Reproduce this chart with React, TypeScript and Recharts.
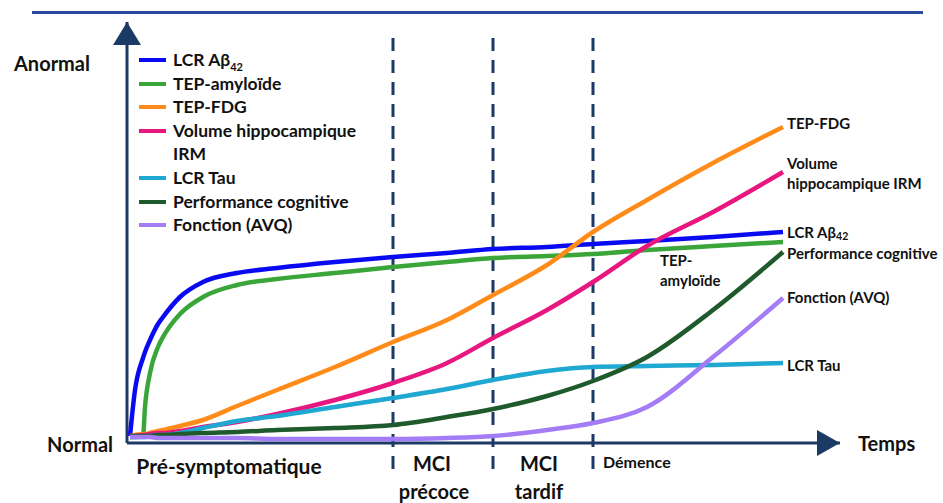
import { LineChart, Line, XAxis, YAxis, ReferenceLine, ReferenceDot } from 'recharts'

// temps (unités arbitraires) et niveaux des biomarqueurs (0 = normal)
const temps = [3, 8, 16, 18, 23, 31, 36, 53, 76, 110, 150, 208, 266, 320, 366, 420, 466, 520, 586, 656]
const lcrAbeta = [7, 53, 85, 91, 103, 119, 126, 146, 161, 170, 175, 181, 186, 190, 194, 196, 199, 202, 206, 211]
const tepAmyloide = [6, 6, 7, 36, 70, 96, 106, 129, 146, 158, 164, 170, 176, 181, 185, 187, 189, 193, 197, 201]
const tepFdg = [7, 8, 9, 9, 10, 12, 13, 17, 23, 37, 53, 76, 101, 123, 148, 178, 211, 243, 280, 316]
const volumeHippo = [7, 7, 8, 8, 9, 10, 10, 12, 16, 21, 29, 43, 60, 80, 105, 133, 161, 197, 231, 271]
const lcrTau = [6, 6, 6, 6, 7, 8, 8, 10, 15, 22, 27, 36, 45, 54, 63, 72, 76, 77, 78, 80]
const perfCognitive = [7, 7, 7, 7, 7, 8, 8, 9, 10, 11, 13, 15, 18, 26, 34, 47, 62, 86, 133, 191]
const fonctionAvq = [6, 6, 6, 6, 6, 5, 5, 5, 5, 5, 4, 4, 4, 5, 7, 13, 20, 36, 86, 145]

// limites entre les stades
const stades = [266, 366, 466]

const AXIS = '#1c3a66'
const FONT = 'Lato, "Open Sans", sans-serif'
const TEXT = '#111'

const series = [
  { key: 'lcrAbeta', name: 'LCR Aβ', sub: '42', color: '#0a0af2', values: lcrAbeta },
  { key: 'tepAmyloide', name: 'TEP-amyloïde', color: '#3aa63a', values: tepAmyloide },
  { key: 'tepFdg', name: 'TEP-FDG', color: '#ff8c1a', values: tepFdg },
  { key: 'volumeHippo', name: 'Volume hippocampique IRM', color: '#e8177f', values: volumeHippo },
  { key: 'lcrTau', name: 'LCR Tau', color: '#1fa8d2', values: lcrTau },
  { key: 'perfCognitive', name: 'Performance cognitive', color: '#1f5a2c', values: perfCognitive },
  { key: 'fonctionAvq', name: 'Fonction (AVQ)', color: '#a47cf5', values: fonctionAvq },
]

const last = temps.length - 1

// étiquettes posées sur les courbes
const curveLabels: Record<string, { at: number; dx: number; lines: string[]; dy: number[] }> = {
  tepFdg: { at: last, dx: 4, lines: ['TEP-FDG'], dy: [-4] },
  volumeHippo: { at: last, dx: 4, lines: ['Volume', 'hippocampique IRM'], dy: [-9, 11] },
  lcrAbeta: { at: last, dx: 4, lines: ['LCR Aβ'], dy: [0] },
  perfCognitive: { at: last, dx: 4, lines: ['Performance cognitive'], dy: [1] },
  fonctionAvq: { at: last, dx: 4, lines: ['Fonction (AVQ)'], dy: [-1] },
  lcrTau: { at: last, dx: 4, lines: ['LCR Tau'], dy: [2] },
  tepAmyloide: { at: last - 2, dx: 13, lines: ['TEP-', 'amyloïde'], dy: [10, 30] },
}

const data = temps.map((t, i) => {
  const row: Record<string, number> = { t }
  series.forEach(s => { row[s.key] = s.values[i] })
  return row
})

const abs = (style: React.CSSProperties): React.CSSProperties => ({
  position: 'absolute', lineHeight: 1, whiteSpace: 'nowrap', ...style,
})

export default function App() {
  return (
    <div style={{ position: 'absolute', left: 0, top: 0, width: 943, height: 503, background: '#fff', fontFamily: FONT, fontWeight: 700, color: TEXT }}>
      <div style={{ position: 'absolute', left: 32, top: 11, width: 891, height: 3, background: '#2c4a9c' }} />

      <LineChart width={943} height={503} data={data} margin={{ top: 22, right: 103, bottom: 60, left: 127 }} style={{ position: 'absolute', left: 0, top: 0 }}>
        <XAxis type="number" dataKey="t" domain={[0, 713]} hide />
        <YAxis type="number" domain={[0, 421]} allowDataOverflow hide />
        {stades.map(x => (
          <ReferenceLine key={x} segment={[{ x, y: 405 }, { x, y: -27 }]} ifOverflow="visible" stroke={AXIS} strokeWidth={3} strokeDasharray="13 9" />
        ))}
        <ReferenceLine y={0} stroke={AXIS} strokeWidth={3} />
        <ReferenceLine x={0} stroke={AXIS} strokeWidth={3} />
        {series.map(s => (
          <Line key={s.key} type="monotone" dataKey={s.key} name={s.name} stroke={s.color} strokeWidth={4.5} dot={false} isAnimationActive={false} />
        ))}
        <ReferenceDot x={713} y={0} ifOverflow="visible" shape={(p: any) => (
          <polygon points={`${p.cx - 23},${p.cy - 13} ${p.cx},${p.cy} ${p.cx - 23},${p.cy + 13}`} fill={AXIS} />
        )} />
        <ReferenceDot x={0} y={421} ifOverflow="visible" shape={(p: any) => (
          <polygon points={`${p.cx - 14},${p.cy + 23} ${p.cx},${p.cy} ${p.cx + 14},${p.cy + 23}`} fill={AXIS} />
        )} />
        {series.map(s => {
          const c = curveLabels[s.key]
          return (
            <ReferenceDot key={'lbl-' + s.key} x={temps[c.at]} y={s.values[c.at]} ifOverflow="visible" shape={(p: any) => (
              <text fontFamily={FONT} fontWeight={700} fontSize={15} fill={TEXT} dominantBaseline="central">
                {c.lines.map((ln, i) => (
                  <tspan key={i} x={p.cx + c.dx} y={p.cy + c.dy[i]}>{ln}</tspan>
                ))}
                {s.sub && c.lines.length === 1 ? <tspan fontSize={10.5} dy={4}>{s.sub}</tspan> : null}
              </text>
            )} />
          )
        })}
      </LineChart>

      {/* légende */}
      <div style={{ position: 'absolute', left: 139, top: 48, fontSize: 17.5, lineHeight: '23.6px' }}>
        {series.map(s => (
          <div key={s.key} style={{ display: 'flex', alignItems: 'flex-start' }}>
            <span style={{ display: 'inline-block', width: 27, height: 4, background: s.color, marginTop: 10, marginRight: 7, flex: 'none' }} />
            <span style={{ maxWidth: 205 }}>
              {s.name}{s.sub ? <sub style={{ fontSize: 11, lineHeight: 0 }}>{s.sub}</sub> : null}
            </span>
          </div>
        ))}
      </div>

      <div style={abs({ left: 14, top: 63, fontSize: 20, transform: 'translateY(-50%)' })}>Anormal</div>
      <div style={abs({ right: 943 - 113, top: 444, fontSize: 20, transform: 'translateY(-50%)' })}>Normal</div>
      <div style={abs({ left: 858, top: 443, fontSize: 20, transform: 'translateY(-50%)' })}>Temps</div>
      <div style={abs({ left: 229, top: 465, fontSize: 21, transform: 'translate(-50%, -50%)' })}>Pré-symptomatique</div>
      <div style={abs({ left: 432, top: 463, fontSize: 20, transform: 'translate(-50%, -50%)' })}>MCI</div>
      <div style={abs({ left: 434, top: 491, fontSize: 20, transform: 'translate(-50%, -50%)' })}>précoce</div>
      <div style={abs({ left: 539, top: 463, fontSize: 20, transform: 'translate(-50%, -50%)' })}>MCI</div>
      <div style={abs({ left: 539, top: 491, fontSize: 20, transform: 'translate(-50%, -50%)' })}>tardif</div>
      <div style={abs({ left: 603, top: 462, fontSize: 16, transform: 'translateY(-50%)' })}>Démence</div>
    </div>
  )
}
